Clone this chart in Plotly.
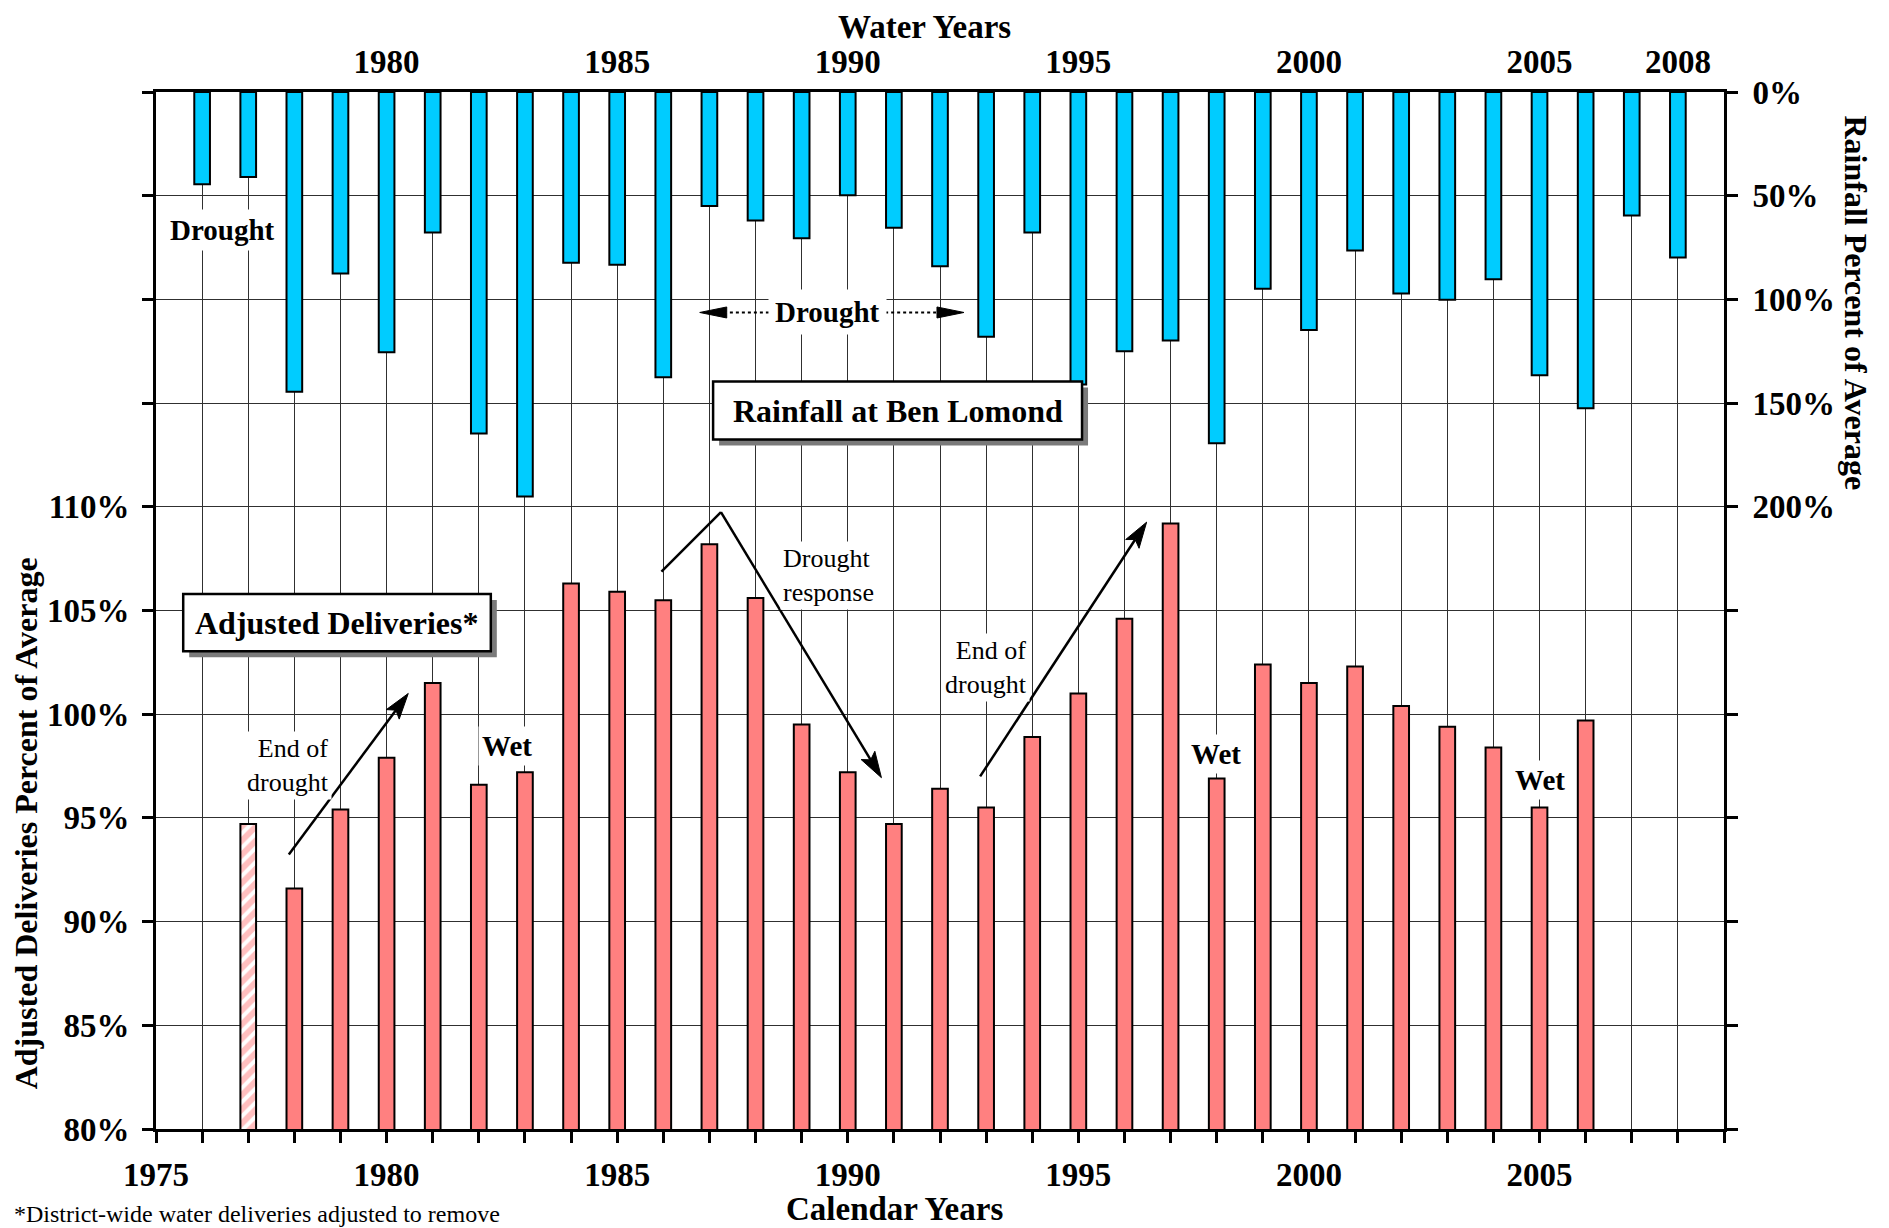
import math
import plotly.graph_objects as go

# ---------------- data ----------------
rain_years = [1976, 1977, 1978, 1979, 1980, 1981, 1982, 1983, 1984, 1985, 1986,
              1987, 1988, 1989, 1990, 1991, 1992, 1993, 1994, 1995, 1996, 1997,
              1998, 1999, 2000, 2001, 2002, 2003, 2004, 2005, 2006, 2007, 2008]
rainfall_pct = [44.5, 41.0, 144.5, 87.5, 125.5, 67.8, 164.7, 195.0, 82.3, 83.3, 137.5,
                55.0, 62.0, 70.5, 49.8, 65.5, 84.0, 118.0, 67.8, 141.0, 125.0, 119.8,
                169.3, 94.9, 114.8, 76.4, 97.1, 100.2, 90.3, 136.6, 152.5, 59.6, 79.8]

est_years = [1977]
est_deliveries_pct = [94.7]

deliv_years = [1978, 1979, 1980, 1981, 1982, 1983, 1984, 1985, 1986, 1987, 1988,
               1989, 1990, 1991, 1992, 1993, 1994, 1995, 1996, 1997, 1998, 1999,
               2000, 2001, 2002, 2003, 2004, 2005, 2006]
deliveries_pct = [91.6, 95.4, 97.9, 101.5, 96.6, 97.2, 106.3, 105.9, 105.5, 108.2, 105.6,
                  99.5, 97.2, 94.7, 96.4, 95.5, 98.9, 101.0, 104.6, 109.2, 96.9, 102.4,
                  101.5, 102.3, 100.4, 99.4, 98.4, 95.5, 99.7]

bottom_tick_years = [1975, 1976, 1977, 1978, 1979, 1980, 1981, 1982, 1983, 1984, 1985,
                     1986, 1987, 1988, 1989, 1990, 1991, 1992, 1993, 1994, 1995, 1996,
                     1997, 1998, 1999, 2000, 2001, 2002, 2003, 2004, 2005, 2006, 2007,
                     2008, 2009]
bottom_tick_labels = ["1975", "", "", "", "", "1980", "", "", "", "", "1985",
                      "", "", "", "", "1990", "", "", "", "", "1995", "",
                      "", "", "", "2000", "", "", "", "", "2005", "", "",
                      "", ""]
top_tick_years = [1980, 1985, 1990, 1995, 2000, 2005, 2008]
top_tick_labels = ["1980", "1985", "1990", "1995", "2000", "2005", "2008"]

deliv_tick_vals = [80, 85, 90, 95, 100, 105, 110, 115, 120, 125, 130]
deliv_tick_labels = ["80%", "85%", "90%", "95%", "100%", "105%", "110%", "", "", "", ""]
rain_tick_vals = [0, 50, 100, 150, 200, 250, 300, 350, 400, 450, 500]
rain_tick_labels = ["0%", "50%", "100%", "150%", "200%", "", "", "", "", "", ""]

X_RANGE = [1975, 2009]
Y_RANGE = [80, 130]
Y2_RANGE = [500, 0]

# ---------------- geometry / styling ----------------
W, H = 1881, 1220          # page body has an 8px margin
ML, MR, MT, MB = 148, 165, 84, 99
PW, PH = W - ML - MR, H - MT - MB
PXX = PW / (X_RANGE[1] - X_RANGE[0])
PXY = PH / (Y_RANGE[1] - Y_RANGE[0])
PXY2 = PH / (Y2_RANGE[0] - Y2_RANGE[1])

SERIF = "Liberation Serif"
RAIN_COLOR = "#00CCFF"
DELIV_COLOR = "#FF8080"
GRID = "#303030"
BAR_W = 0.34

fig = go.Figure()

fig.add_trace(go.Bar(
    x=rain_years, y=rainfall_pct, xaxis="x2", yaxis="y2", width=BAR_W,
    marker=dict(color=RAIN_COLOR, line=dict(color="black", width=2)),
    showlegend=False, name="Rainfall"))

fig.add_trace(go.Bar(
    x=deliv_years, y=deliveries_pct, width=BAR_W,
    marker=dict(color=DELIV_COLOR, line=dict(color="black", width=2)),
    showlegend=False, name="Adjusted Deliveries"))

fig.add_trace(go.Bar(
    x=est_years, y=est_deliveries_pct, width=BAR_W,
    marker=dict(color="white",
                pattern=dict(shape="/", fgcolor=DELIV_COLOR, bgcolor="white",
                             size=10, solidity=0.6),
                line=dict(color="black", width=2)),
    showlegend=False, name="Adjusted Deliveries (est.)"))

tickfont = dict(family=SERIF, size=33, color="black", weight="bold")

fig.update_layout(
    width=W, height=H,
    margin=dict(l=ML, r=MR, t=MT, b=MB, pad=0),
    paper_bgcolor="white", plot_bgcolor="white",
    barmode="overlay", showlegend=False,
    xaxis=dict(range=X_RANGE, tickmode="array", tickvals=bottom_tick_years,
               ticktext=bottom_tick_labels, ticks="outside", ticklen=11, tickwidth=2.5,
               tickcolor="black", showline=True, linewidth=3, linecolor="black",
               mirror=True, showgrid=True, gridcolor=GRID, gridwidth=1,
               zeroline=False, tickfont=tickfont, ticklabelstandoff=3),
    xaxis2=dict(range=X_RANGE, overlaying="x", side="top", anchor="y2",
                tickmode="array", tickvals=top_tick_years, ticktext=top_tick_labels,
                ticks="", showgrid=False, showline=False, zeroline=False,
                tickfont=tickfont, ticklabelstandoff=11),
    yaxis=dict(range=Y_RANGE, tickmode="array", tickvals=deliv_tick_vals,
               ticktext=deliv_tick_labels, ticks="outside", ticklen=11, tickwidth=2.5,
               tickcolor="black", showline=True, linewidth=3, linecolor="black",
               showgrid=True, gridcolor=GRID, gridwidth=1, zeroline=False,
               tickfont=tickfont, ticklabelstandoff=6),
    yaxis2=dict(range=Y2_RANGE, overlaying="y", side="right", anchor="x2",
                tickmode="array", tickvals=rain_tick_vals, ticktext=rain_tick_labels,
                ticks="outside", ticklen=11, tickwidth=2.5, tickcolor="black",
                showline=True, linewidth=3, linecolor="black", showgrid=False,
                zeroline=False, tickfont=tickfont, ticklabelstandoff=8),
)

shapes = []


def box(x0, x1, y0, y1, yref):
    # drop shadow offset 6px right / 6px down
    sx = 6 / PXX
    sy = -6 / PXY if yref == "y" else 6 / PXY2
    shapes.append(dict(type="rect", xref="x", yref=yref, x0=x0 + sx, x1=x1 + sx,
                       y0=y0 + sy, y1=y1 + sy, fillcolor="#7a7a7a",
                       line=dict(width=0), layer="above"))
    shapes.append(dict(type="rect", xref="x", yref=yref, x0=x0, x1=x1, y0=y0, y1=y1,
                       fillcolor="white", line=dict(color="black", width=2.5),
                       layer="above"))


def arrow(x0, y0, x1, y1, yref, length, half, notch, width, dash="solid"):
    sy = PXY if yref == "y" else -PXY2   # data -> upward pixels
    dx, dy = (x1 - x0) * PXX, (y1 - y0) * sy
    L = math.hypot(dx, dy)
    ux, uy = dx / L, dy / L
    nx, ny = -uy, ux

    def pt(ox, oy):
        return x1 + ox / PXX, y1 + oy / sy

    bl = pt(-ux * length + nx * half, -uy * length + ny * half)
    br = pt(-ux * length - nx * half, -uy * length - ny * half)
    nt = pt(-ux * length * notch, -uy * length * notch)
    shapes.append(dict(type="line", xref="x", yref=yref, x0=x0, y0=y0, x1=nt[0], y1=nt[1],
                       line=dict(color="black", width=width, dash=dash), layer="above"))
    path = (f"M {x1},{y1} L {bl[0]},{bl[1]} L {nt[0]},{nt[1]} "
            f"L {br[0]},{br[1]} Z")
    shapes.append(dict(type="path", xref="x", yref=yref, path=path,
                       fillcolor="black", line=dict(color="black", width=1),
                       layer="above"))


box(1975.59, 1982.26, 103.04, 105.79, "y")
box(1987.08, 1995.08, 139.6, 167.6, "y2")

# end-of-drought and drought-response arrows (deliveries axis)
arrow(1977.88, 93.23, 1980.47, 101.0, "y", 26, 8, 0.8, 2.5)
shapes.append(dict(type="line", xref="x", yref="y", x0=1985.96, y0=106.87,
                   x1=1987.25, y1=109.74, line=dict(color="black", width=2.5),
                   layer="above"))
arrow(1987.25, 109.74, 1990.73, 96.94, "y", 26, 8, 0.8, 2.5)
arrow(1992.87, 97.0, 1996.48, 109.26, "y", 26, 8, 0.8, 2.5)

# dotted drought span (rainfall axis)
arrow(1989.2, 106.3, 1986.79, 106.3, "y2", 27, 5.5, 1.0, 2, dash="dot")
arrow(1989.9, 106.3, 1992.52, 106.3, "y2", 27, 5.5, 1.0, 2, dash="dot")

fig.update_layout(shapes=shapes)

ann = []


def txt(x, y, text, size, bold=False, yref="y", align="center", pad=3):
    ann.append(dict(x=x, y=y, xref="x", yref=yref, text=text, showarrow=False,
                    font=dict(family=SERIF, size=size, color="black",
                              weight="bold" if bold else "normal"),
                    bgcolor="white", borderpad=pad, align=align,
                    xanchor="center", yanchor="middle"))


ann.append(dict(x=(1975.59 + 1982.26) / 2, y=(103.04 + 105.79) / 2, xref="x", yref="y",
                text="Adjusted Deliveries*", showarrow=False,
                font=dict(family=SERIF, size=32, color="black", weight="bold")))
ann.append(dict(x=(1987.08 + 1995.08) / 2, y=(139.6 + 167.6) / 2, xref="x", yref="y2",
                text="Rainfall at Ben Lomond", showarrow=False,
                font=dict(family=SERIF, size=32, color="black", weight="bold")))

txt(1976.45, 66.7, "Drought", 29, bold=True, yref="y2", pad=4)
txt(1989.57, 106.3, "Drought", 29, bold=True, yref="y2", pad=6)
txt(1977.86, 97.51, "End of<br>drought", 26, align="right", pad=2)
txt(1982.62, 98.47, "Wet", 29, bold=True, pad=3)
txt(1989.58, 106.7, "Drought<br>response", 26, align="left", pad=2)
txt(1992.99, 102.25, "End of<br>drought", 26, align="right", pad=2)
txt(1997.99, 98.09, "Wet", 29, bold=True, pad=3)
txt(2005.02, 96.84, "Wet", 29, bold=True, pad=3)

title_font = dict(family=SERIF, size=33, color="black", weight="bold")
# top title: box top flush with the figure top
ann.append(dict(x=0.4901, y=(PH + MT) / PH, xref="paper", yref="paper", text="Water Years",
                showarrow=False, font=title_font, xanchor="center", yanchor="top",
                borderpad=0))
# bottom texts: box bottom flush with the figure bottom
ann.append(dict(x=0.4713, y=-MB / PH, xref="paper", yref="paper", text="Calendar Years",
                showarrow=False, font=title_font,
                xanchor="center", yanchor="bottom", borderpad=0))
ann.append(dict(x=-0.0824, y=0.2946, xref="paper", yref="paper",
                text="Adjusted Deliveries Percent of Average", textangle=-90,
                showarrow=False, font=dict(family=SERIF, size=32, color="black", weight="bold"),
                xanchor="center", yanchor="middle"))
ann.append(dict(x=1.0842, y=0.797, xref="paper", yref="paper",
                text="Rainfall Percent of Average", textangle=90,
                showarrow=False, font=dict(family=SERIF, size=32, color="black", weight="bold"),
                xanchor="center", yanchor="middle"))
ann.append(dict(x=-0.0909, y=-MB / PH, xref="paper", yref="paper",
                text="*District-wide water deliveries adjusted to remove",
                showarrow=False, font=dict(family=SERIF, size=24, color="black"),
                xanchor="left", yanchor="bottom", borderpad=0))

fig.update_layout(annotations=ann)

fig.write_html("out.html")
